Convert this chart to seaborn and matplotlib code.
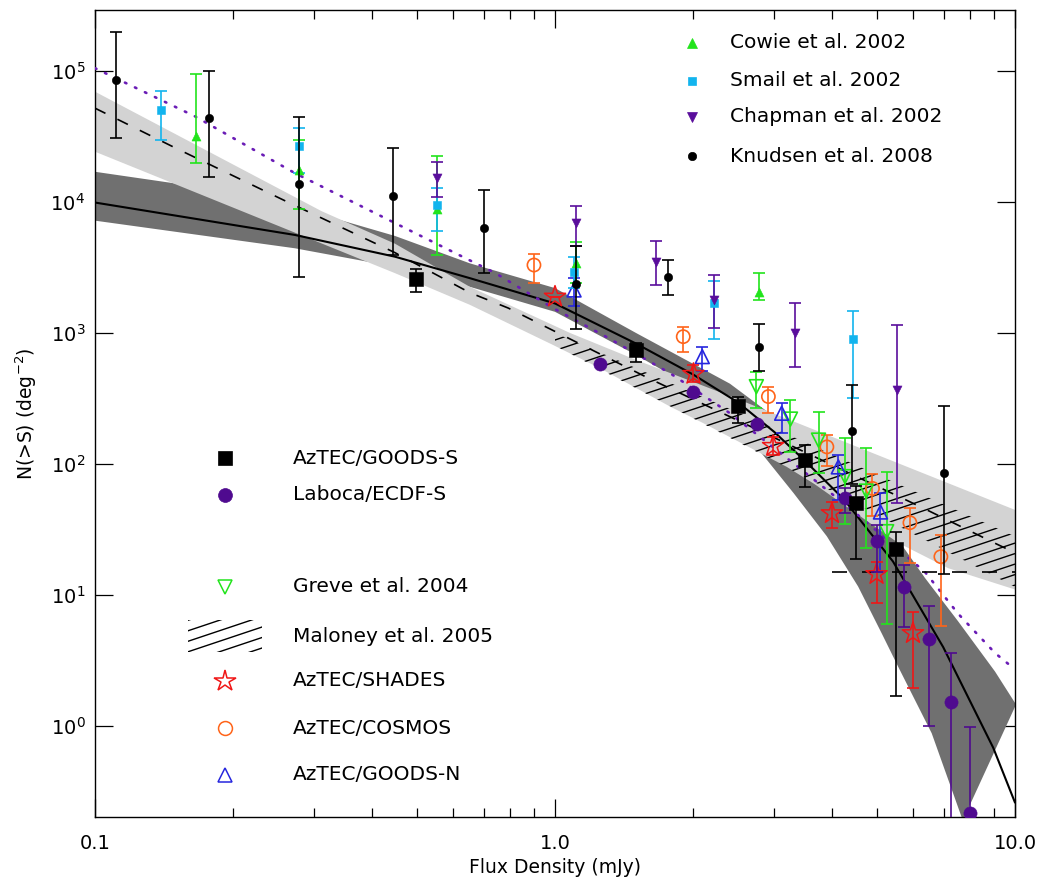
import numpy as np
import matplotlib
matplotlib.use("Agg")
import matplotlib.pyplot as plt
import seaborn as sns
from matplotlib.patches import Polygon, Rectangle
from matplotlib.collections import LineCollection
from matplotlib.ticker import (FixedLocator, FixedFormatter, LogLocator, NullLocator,
                               NullFormatter)

# ---------------- data ----------------
# Knudsen et al. 2008
S_kn = [0.111, 0.177, 0.277, 0.444, 0.70, 1.11, 1.76, 2.78, 4.43, 7.0]
N_kn = [8.5e4, 4.4e4, 1.38e4, 1.12e4, 6.3e3, 2.37e3, 2.69e3, 785, 177, 86]
hi_kn = [1.97e5, 1.0e5, 4.46e4, 2.6e4, 1.24e4, 4.6e3, 3.6e3, 1.18e3, 403, 279]
lo_kn = [3.06e4, 1.55e4, 2.69e3, 3.94e3, 2.88e3, 1.07e3, 1.96e3, 515, 70, 14.5]
# Smail et al. 2002
S_sm = [0.139, 0.277, 0.555, 1.10, 2.22, 4.45]
N_sm = [5.0e4, 2.67e4, 9.4e3, 2.9e3, 1.7e3, 895]
hi_sm = [7.07e4, 3.65e4, 1.27e4, 3.83e3, 2.5e3, 1.47e3]
lo_sm = [2.97e4, 1.67e4, 6.0e3, 2.2e3, 895, 317]
# Cowie et al. 2002
S_co = [0.166, 0.277, 0.555, 1.11, 2.77]
N_co = [3.19e4, 1.76e4, 8.9e3, 3.4e3, 2.07e3]
hi_co = [9.4e4, 2.97e4, 2.26e4, 4.98e3, 2.88e3]
lo_co = [1.97e4, 8.9e3, 3.94e3, 2.4e3, 1.79e3]
# Chapman et al. 2002
S_ch = [0.555, 1.11, 1.66, 2.22, 3.33, 5.55]
N_ch = [1.52e4, 6.9e3, 3.5e3, 1.79e3, 1.0e3, 367]
hi_ch = [2.03e4, 9.3e3, 5.07e3, 2.77e3, 1.69e3, 1.15e3]
lo_ch = [1.1e4, 4.6e3, 2.32e3, 1.1e3, 547, 50]
# AzTEC/GOODS-S
S_gs = [0.499, 1.5, 2.5, 3.5, 4.51, 5.5]
N_gs = [2.6e3, 742, 278, 107, 50.7, 22.4]
hi_gs = [3.08e3, 843, 327, 140, 68, 30]
lo_gs = [2.06e3, 604, 205, 67, 18.8, 1.7]
# Laboca/ECDF-S
S_lb = [1.25, 2.0, 2.75, 4.26, 5.0, 5.74, 6.5, 7.25, 8.0]
N_lb = [577, 352, 202, 54.7, 25.8, 11.5, 4.6, 1.53, 0.216]
hi_lb = [577, 352, 202, 65, 34, 16.9, 8.2, 3.6, 0.99]
lo_lb = [577, 352, 202, 42, 15.1, 5.7, 1.0, 0.01, 0.01]
# Greve et al. 2004
S_gr = [2.74, 3.25, 3.74, 4.27, 4.75, 5.26]
N_gr = [389, 220, 152, 80, 62, 30.4]
hi_gr = [507, 308, 250, 157, 132, 87]
lo_gr = [266, 124, 86, 35, 23, 6.0]
# AzTEC/SHADES
S_sh = [1.0, 2.0, 2.98, 4.0, 5.0, 6.0]
N_sh = [1.89e3, 486, 137, 42, 14.4, 5.1]
hi_sh = [1.89e3, 570, 160, 51, 18, 7.4]
lo_sh = [1.89e3, 420, 118, 32.7, 8.7, 1.94]
# AzTEC/COSMOS
S_cm = [0.90, 1.9, 2.91, 3.9, 4.9, 5.91, 6.9]
N_cm = [3.3e3, 937, 327, 135, 65, 35.6, 19.6]
hi_cm = [4.03e3, 1.12e3, 389, 166, 84, 46, 28.7]
lo_cm = [2.42e3, 713, 244, 97, 40, 17.5, 5.8]
# AzTEC/GOODS-N
S_gn = [1.10, 2.09, 3.11, 4.13, 5.1]
N_gn = [2.13e3, 660, 244, 95, 43]
hi_gn = [2.62e3, 785, 294, 117, 60]
lo_gn = [1.61e3, 513, 171, 53, 15.1]

# best-fit curve (solid) and its band (dark grey)
S_fit = [0.1, 0.272, 0.449, 0.653, 1.0, 1.5, 2.0, 2.5, 3.0, 3.52, 4.24, 5.43, 6.98, 8.97, 10.0]
N_fit = [9.9e3, 5.6e3, 3.82e3, 2.62e3, 1.68e3, 830, 480, 295, 175, 103, 54, 18, 4.0, 0.68, 0.26]
S_fit_hi = [0.1, 0.157, 0.311, 0.449, 0.653, 1.0, 1.5, 2.4, 3.52, 4.24, 5.43, 6.37, 7.52, 9.05, 10.0]
N_fit_hi = [1.7e4, 1.35e4, 8.0e3, 5.5e3, 3.4e3, 2.2e3, 1.0e3, 410, 150, 92, 30, 13.5, 6.3, 2.6, 1.5]
S_fit_lo = [0.1, 0.272, 0.449, 0.653, 1.0, 1.5, 2.0, 2.5, 2.79, 3.3, 3.9, 4.56, 5.13, 5.57, 6.59, 7.7, 10.0]
N_fit_lo = [7.2e3, 4.43e3, 3.2e3, 2.25e3, 1.45e3, 680, 380, 190, 125, 60, 28, 11.6, 5.1, 2.84, 0.88, 0.19, 1.4]

# power-law curve (dashed) and its band (light grey)
S_pl = [0.1, 0.149, 0.259, 0.449, 0.653, 0.791, 1.078, 1.6, 6.27, 9.05, 10.0]
N_pl = [5.2e4, 2.6e4, 1.02e4, 4.1e3, 2.03e3, 1.55e3, 900, 450, 46.6, 24.8, 21]
S_pl_hi = [0.1, 0.311, 0.449, 0.653, 1.078, 1.505, 2.4, 10.0]
N_pl_hi = [6.95e4, 8.5e3, 4.8e3, 2.25e3, 1.0e3, 620, 330, 44.6]
S_pl_lo = [0.1, 0.449, 0.653, 0.99, 1.25, 1.78, 2.1, 3.19, 3.67, 5.57, 7.16, 10.0]
N_pl_lo = [2.42e4, 2.86e3, 1.64e3, 810, 540, 274, 205, 95, 70, 25, 16, 11]

# Maloney et al. 2005 (hatched region)
S_mal = [1.0, 2.74, 10.0]
N_mal_hi = [1000, 215, 28]
N_mal_lo = [800, 124, 11.5]

# dotted model
S_dot = [0.1, 0.165, 0.272, 0.449, 0.741, 0.99, 1.29, 1.78, 2.4, 3.29, 4.42, 6.37, 7.52, 9.05, 10.0]
N_dot = [1.05e5, 4.5e4, 1.66e4, 6.9e3, 2.87e3, 1.55e3, 937, 492, 244, 102, 44.6, 15, 7.2, 3.6, 2.7]

# flux limit (horizontal dashed)
S_lim = [4.0, 10.0]
N_lim = [15, 15]

x_ticks = [0.1, 1.0, 10.0]
x_tick_labels = ["0.1", "1.0", "10.0"]
y_ticks = [1e0, 1e1, 1e2, 1e3, 1e4, 1e5]
y_tick_labels = [r"$10^{0}$", r"$10^{1}$", r"$10^{2}$", r"$10^{3}$", r"$10^{4}$", r"$10^{5}$"]

# ---------------- style ----------------
GREEN = "#22E41C"
CYAN = "#12B4EE"
PURPLE = "#5A0E9C"
LPURPLE = "#4F0A8F"
ORANGE = "#FF6419"
BLUE = "#2626DE"
RED = "#F01616"
DOTP = "#6A1CB6"
DARK = "#707070"
LIGHT = "#D3D3D3"

sns.set_theme(style="ticks")
plt.rcParams["font.family"] = ["DejaVu Sans"]
plt.rcParams["mathtext.fontset"] = "dejavusans"
plt.rcParams["axes.edgecolor"] = "black"
plt.rcParams["axes.labelcolor"] = "black"
plt.rcParams["xtick.color"] = "black"
plt.rcParams["ytick.color"] = "black"
plt.rcParams["text.color"] = "black"
plt.rcParams["axes.linewidth"] = 1.0

W, H = 1041, 882
L, R, T, B = 95, 1015, 10, 817
fig = plt.figure(figsize=(W / 100, H / 100), dpi=100)
ax = fig.add_axes([L / W, 1 - B / H, (R - L) / W, (B - T) / H])
ax.set_xscale("log")
ax.set_yscale("log")
ax.set_xlim(0.1, 10)
ax.set_ylim(0.2018, 2.92e5)


def poly(Su, Nu, Sl, Nl):
    xs = np.concatenate([np.asarray(Su, float), np.asarray(Sl, float)[::-1]])
    ys = np.concatenate([np.asarray(Nu, float), np.asarray(Nl, float)[::-1]])
    return np.column_stack([xs, ys])


# bands
ax.add_patch(Polygon(poly(S_fit_hi, N_fit_hi, S_fit_lo, N_fit_lo), closed=True,
                     fc=DARK, ec="none", zorder=1))
ax.add_patch(Polygon(poly(S_pl_hi, N_pl_hi, S_pl_lo, N_pl_lo), closed=True,
                     fc=LIGHT, ec="none", zorder=2))

# hatch lines (Maloney), drawn as clipped parallel lines
pw, ph = R - L, B - T
k = np.tan(np.radians(18.5)) * pw / ph
step = 10.5 / ph


def hatch(clip_patch, lw=1.0):
    cs = np.arange(-1.2, 1.2, step)
    segs = [[(0.0, c), (1.0, c + k)] for c in cs]
    lc = LineCollection(segs, colors="black", linewidths=lw,
                        transform=ax.transAxes, zorder=3)
    ax.add_collection(lc, autolim=False)
    lc.set_clip_path(clip_patch)
    return lc


mal = Polygon(poly(S_mal, N_mal_hi, S_mal, N_mal_lo), closed=True,
              fc="none", ec="none", zorder=3)
ax.add_patch(mal)
hatch(mal)

# curves
sns.lineplot(x=S_fit, y=N_fit, ax=ax, color="black", lw=1.5, sort=False,
             estimator=None, zorder=4)
sns.lineplot(x=S_pl, y=N_pl, ax=ax, color="black", lw=1.2, sort=False,
             estimator=None, linestyle=(0, (7, 8)), zorder=4)
sns.lineplot(x=S_dot, y=N_dot, ax=ax, color=DOTP, lw=1.9, sort=False,
             estimator=None, linestyle=(0, (0.6, 3.6)), dash_capstyle="round", zorder=4)
sns.lineplot(x=S_lim, y=N_lim, ax=ax, color="black", lw=1.2, sort=False,
             estimator=None, linestyle=(0, (9, 9)), zorder=4)


def series(S, N, lo, hi, color, marker, size, filled, z, ew=1.2, cap=4.3, elw=1.2):
    S = np.asarray(S, float)
    N = np.asarray(N, float)
    yerr = np.vstack([N - np.asarray(lo, float), np.asarray(hi, float) - N])
    ax.errorbar(S, N, yerr=yerr, fmt="none", ecolor=color, elinewidth=elw,
                capsize=cap, capthick=elw, zorder=z)
    if filled:
        sns.scatterplot(x=S, y=N, marker=marker, s=size ** 2, color=color,
                        edgecolor=color, linewidth=0.4, ax=ax, zorder=z + 0.5,
                        legend=False)
    else:
        sns.scatterplot(x=S, y=N, marker=marker, s=size ** 2, facecolor="none",
                        edgecolor=color, linewidth=ew, ax=ax, zorder=z + 0.5,
                        legend=False)


series(S_cm, N_cm, lo_cm, hi_cm, ORANGE, "o", 9.5, False, 5)
series(S_gr, N_gr, lo_gr, hi_gr, GREEN, "v", 10, False, 5)
series(S_gn, N_gn, lo_gn, hi_gn, BLUE, "^", 10, False, 5)
series(S_sh, N_sh, lo_sh, hi_sh, RED, "*", 16, False, 6, ew=1.1)
series(S_co, N_co, lo_co, hi_co, GREEN, "^", 6.5, True, 6)
series(S_sm, N_sm, lo_sm, hi_sm, CYAN, "s", 6, True, 6)
series(S_ch, N_ch, lo_ch, hi_ch, PURPLE, "v", 6.5, True, 6)
series(S_kn, N_kn, lo_kn, hi_kn, "black", "o", 6, True, 7)
series(S_lb, N_lb, lo_lb, hi_lb, LPURPLE, "o", 9.5, True, 7)
series(S_gs, N_gs, lo_gs, hi_gs, "black", "s", 9.5, True, 7)

# ---------------- axes ----------------
ax.xaxis.set_major_locator(FixedLocator(x_ticks))
ax.xaxis.set_major_formatter(FixedFormatter(x_tick_labels))
ax.xaxis.set_minor_locator(LogLocator(base=10, subs=np.arange(2, 10), numticks=20))
ax.xaxis.set_minor_formatter(NullFormatter())
ax.yaxis.set_major_locator(FixedLocator(y_ticks))
ax.yaxis.set_major_formatter(FixedFormatter(y_tick_labels))
ax.yaxis.set_minor_locator(NullLocator())
ax.yaxis.set_minor_formatter(NullFormatter())
ax.tick_params(which="both", direction="in", top=True, right=True,
               color="black", labelcolor="black")
ax.tick_params(which="major", length=13, width=0.9, labelsize=14)
ax.tick_params(axis="x", which="major", pad=12)
ax.tick_params(axis="y", which="major", pad=7)
ax.tick_params(which="minor", length=6.5, width=0.9)
for sp in ax.spines.values():
    sp.set_color("black")
    sp.set_linewidth(1.0)
ax.set_xlabel("Flux Density (mJy)", fontsize=13.5, labelpad=4, color="black")
ax.set_ylabel(r"N(>S) (deg$^{-2}$)", fontsize=13.5, labelpad=8, color="black")
ax.set_xlim(0.1, 10)
ax.set_ylim(0.2018, 2.92e5)


# ---------------- legends (placed as in the reference) ----------------
def ax_xy(px, py):
    return (px - L) / pw, (B - py) / ph


LEG_FS = 14.5


def leg_entry(mx, tx, py, text, marker=None, color="black", ms=8, filled=True, mew=1.2):
    x0, y0 = ax_xy(mx, py)
    x1, _ = ax_xy(tx, py)
    if marker is not None:
        ax.plot([x0], [y0], marker=marker, ms=ms, ls="none",
                mfc=color if filled else "none", mec=color, mew=mew,
                transform=ax.transAxes, clip_on=False, zorder=8)
    ax.text(x1, y0, text, transform=ax.transAxes, fontsize=LEG_FS,
            va="center", ha="left", color="black", zorder=8)


leg_entry(692, 730, 43, "Cowie et al. 2002", "^", GREEN, 6.5, True, 0.5)
leg_entry(692, 730, 81, "Smail et al. 2002", "s", CYAN, 6, True, 0.5)
leg_entry(692, 730, 117, "Chapman et al. 2002", "v", PURPLE, 6.5, True, 0.5)
leg_entry(692, 730, 156, "Knudsen et al. 2008", "o", "black", 6, True, 0.5)

leg_entry(225, 293, 458, "AzTEC/GOODS-S", "s", "black", 10, True, 0.5)
leg_entry(225, 293, 495, "Laboca/ECDF-S", "o", LPURPLE, 10, True, 0.5)
leg_entry(225, 293, 587, "Greve et al. 2004", "v", GREEN, 10, False, 1.1)
leg_entry(225, 293, 636, "Maloney et al. 2005")
leg_entry(225, 293, 681, "AzTEC/SHADES", "*", RED, 16, False, 1.1)
leg_entry(225, 293, 728, "AzTEC/COSMOS", "o", ORANGE, 10, False, 1.1)
leg_entry(225, 293, 775, "AzTEC/GOODS-N", "^", BLUE, 10, False, 1.1)

# hatch sample for Maloney legend entry
gx0, gy0 = ax_xy(188, 652)
gx1, gy1 = ax_xy(262, 620)
glyph = Rectangle((gx0, gy0), gx1 - gx0, gy1 - gy0, transform=ax.transAxes,
                  fc="none", ec="none")
hatch(glyph)

fig.savefig("out.png", dpi=100)
